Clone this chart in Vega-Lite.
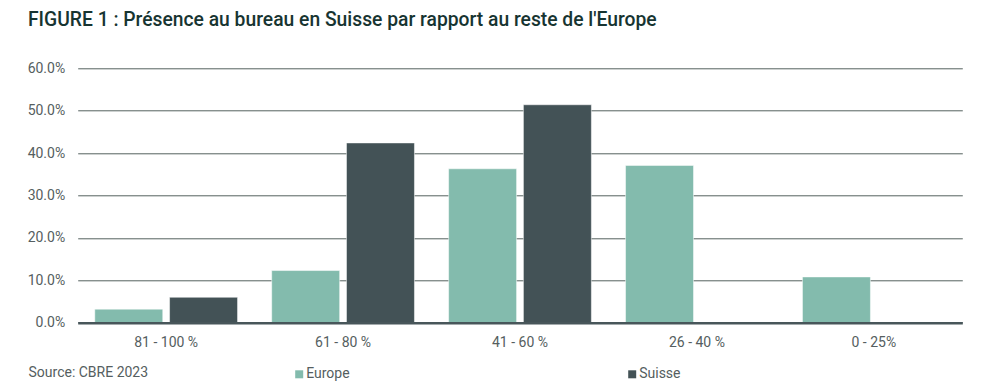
{
  "$schema": "https://vega.github.io/schema/vega-lite/v6.json",
  "width": 884.6,
  "height": 254.4,
  "autosize": {"type": "none"},
  "padding": {"left": 77.7, "top": 68.3, "right": 36.7, "bottom": 61.3},
  "background": "white",
  "title": {
    "text": "FIGURE 1 : Présence au bureau en Suisse par rapport au reste de l'Europe",
    "anchor": "start",
    "frame": "group",
    "dx": -49.7,
    "offset": 16,
    "baseline": "alphabetic",
    "font": "Roboto",
    "fontSize": 19.3,
    "fontWeight": 500,
    "color": "#173431"
  },
  "data": {
    "values": [
      {"tranche": "81 - 100 %", "serie": "Europe", "valeur": 0.032},
      {"tranche": "81 - 100 %", "serie": "Suisse", "valeur": 0.060},
      {"tranche": "61 - 80 %", "serie": "Europe", "valeur": 0.123},
      {"tranche": "61 - 80 %", "serie": "Suisse", "valeur": 0.424},
      {"tranche": "41 - 60 %", "serie": "Europe", "valeur": 0.363},
      {"tranche": "41 - 60 %", "serie": "Suisse", "valeur": 0.514},
      {"tranche": "26 - 40 %", "serie": "Europe", "valeur": 0.371},
      {"tranche": "26 - 40 %", "serie": "Suisse", "valeur": 0.0},
      {"tranche": "0 - 25%", "serie": "Europe", "valeur": 0.108},
      {"tranche": "0 - 25%", "serie": "Suisse", "valeur": 0.0}
    ]
  },
  "mark": {"type": "bar", "stroke": "#ffffff", "strokeOpacity": 0.5, "strokeWidth": 1},
  "encoding": {
    "x": {
      "field": "tranche",
      "type": "nominal",
      "sort": ["81 - 100 %", "61 - 80 %", "41 - 60 %", "26 - 40 %", "0 - 25%"],
      "scale": {"paddingInner": 0.193, "paddingOuter": 0.0965},
      "axis": {
        "zindex": 1,
        "title": "Source: CBRE 2023",
        "titleAnchor": "start",
        "titleX": -49.7,
        "titleY": 54,
        "titleBaseline": "alphabetic",
        "titleFont": "Roboto",
        "titleFontSize": 14,
        "titleFontWeight": "normal",
        "titleColor": "#555e60",
        "labelAngle": 0,
        "labelFont": "Roboto",
        "labelFontSize": 14,
        "labelColor": "#555e60",
        "labelPadding": 13,
        "ticks": false,
        "domainColor": "#48565a",
        "domainWidth": 2.5
      }
    },
    "xOffset": {
      "field": "serie",
      "type": "nominal",
      "scale": {"paddingInner": 0.091, "paddingOuter": 0}
    },
    "y": {
      "field": "valeur",
      "type": "quantitative",
      "scale": {"domain": [0, 0.6], "nice": false},
      "axis": {
        "title": null,
        "format": ".1%",
        "values": [0, 0.1, 0.2, 0.3, 0.4, 0.5, 0.6],
        "labelFont": "Roboto",
        "labelFontSize": 14,
        "labelColor": "#555e60",
        "labelPadding": 13,
        "ticks": false,
        "domain": false,
        "gridColor": "#55615f",
        "gridWidth": 1
      }
    },
    "color": {
      "field": "serie",
      "type": "nominal",
      "scale": {"domain": ["Europe", "Suisse"], "range": ["#83bbad", "#435256"]},
      "legend": {
        "title": null,
        "orient": "none",
        "direction": "horizontal",
        "legendX": 214.5,
        "legendY": 299,
        "padding": 0,
        "symbolType": "square",
        "symbolSize": 64,
        "symbolStrokeWidth": 0,
        "labelOffset": 0,
        "labelFont": "Roboto",
        "labelFontSize": 14,
        "labelColor": "#555e60",
        "columnPadding": 275
      }
    }
  },
  "config": {
    "view": {"stroke": null}
  }
}
